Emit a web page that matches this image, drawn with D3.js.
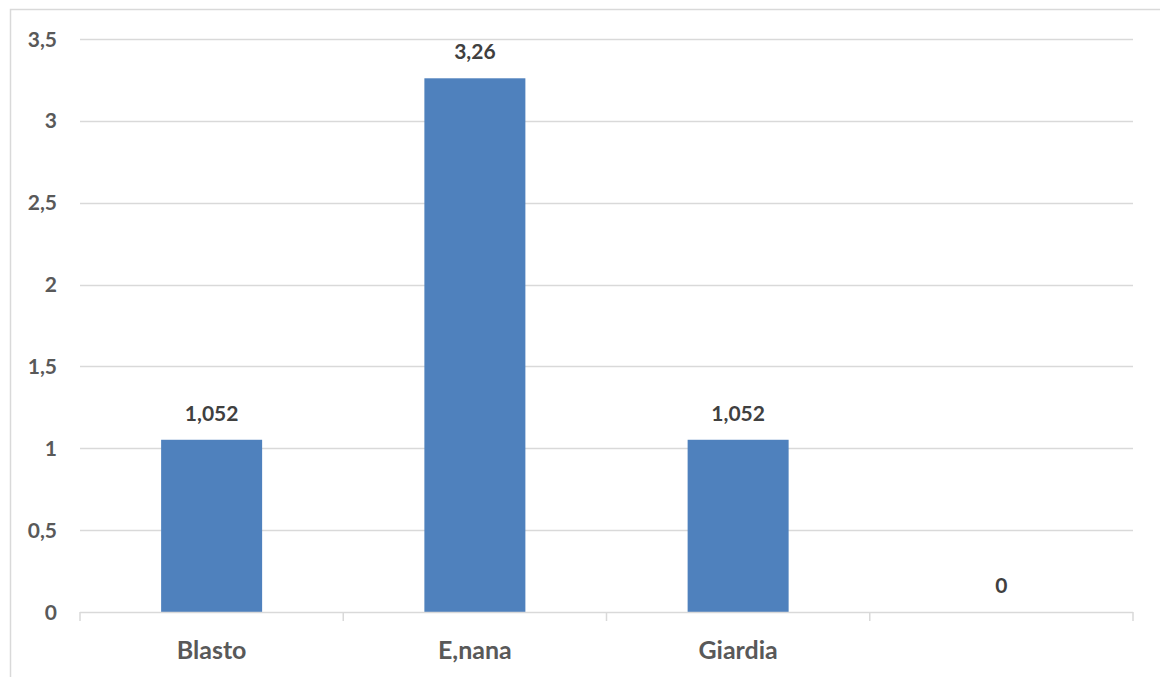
<!DOCTYPE html>
<html>
<head>
<meta charset="utf-8">
<script src="https://cdn.jsdelivr.net/npm/d3@7/dist/d3.min.js"></script>
<style>
  html, body { margin: 0; padding: 0; background: #fff; }
  svg { display: block; font-family: Lato, "Open Sans", sans-serif; }
</style>
</head>
<body>
<svg id="chart" width="1160" height="677"></svg>
<script>
const categories = ["Blasto", "E,nana", "Giardia", ""];
const values = [1.052, 3.26, 1.052, 0];
const valueLabels = ["1,052", "3,26", "1,052", "0"];
const yTicks = [0, 0.5, 1, 1.5, 2, 2.5, 3, 3.5];

const svg = d3.select("#chart");
const margin = { left: 80, right: 1133, top: 39, bottom: 612 };

// chart frame
svg.append("rect")
  .attr("x", 10.5).attr("y", 9.5)
  .attr("width", 1160).attr("height", 700)
  .attr("fill", "none").attr("stroke", "#d9d9d9").attr("stroke-width", 1.5);

const x = d3.scaleBand().domain(categories.map((d, i) => i))
  .range([margin.left, margin.right]).paddingInner(0).paddingOuter(0);
const y = d3.scaleLinear().domain([0, 3.5]).range([margin.bottom, margin.top]);

const fmt = v => String(v).replace(".", ",");

// gridlines
svg.append("g").selectAll("line").data(yTicks.filter(t => t > 0)).join("line")
  .attr("x1", margin.left).attr("x2", margin.right)
  .attr("y1", d => Math.round(y(d)) + 0.5).attr("y2", d => Math.round(y(d)) + 0.5)
  .attr("stroke", "#d9d9d9").attr("stroke-width", 1.5);

// y tick labels
svg.append("g").selectAll("text").data(yTicks).join("text")
  .attr("x", 57).attr("y", d => y(d))
  .attr("dy", "0.36em").attr("text-anchor", "end")
  .attr("font-size", 21).attr("font-weight", "bold").attr("fill", "#595959")
  .text(fmt);

// bars
const barW = 101;
svg.append("g").selectAll("rect").data(values).join("rect")
  .attr("x", (d, i) => x(i) + x.bandwidth() / 2 - barW / 2)
  .attr("width", barW)
  .attr("y", d => y(d))
  .attr("height", d => y(0) - y(d))
  .attr("fill", "#4f81bd");

// category axis line and ticks
const xAxis = svg.append("g");
xAxis.append("line")
  .attr("x1", margin.left).attr("x2", margin.right)
  .attr("y1", y(0) + 0.5).attr("y2", y(0) + 0.5)
  .attr("stroke", "#d9d9d9").attr("stroke-width", 1.5);
const bounds = categories.map((d, i) => x(i)).concat([margin.right]);
xAxis.selectAll("line.tick").data(bounds).join("line")
  .attr("class", "tick")
  .attr("x1", d => d).attr("x2", d => d)
  .attr("y1", y(0)).attr("y2", y(0) + 9)
  .attr("stroke", "#d9d9d9").attr("stroke-width", 1.5);

// category labels
svg.append("g").selectAll("text").data(categories).join("text")
  .attr("x", (d, i) => x(i) + x.bandwidth() / 2)
  .attr("y", 659).attr("text-anchor", "middle")
  .attr("font-size", 25).attr("font-weight", "bold").attr("fill", "#595959")
  .text(d => d);

// value labels
svg.append("g").selectAll("text").data(values).join("text")
  .attr("x", (d, i) => x(i) + x.bandwidth() / 2)
  .attr("y", d => y(d) - 19).attr("text-anchor", "middle")
  .attr("font-size", 21).attr("font-weight", "bold").attr("fill", "#404040")
  .text((d, i) => valueLabels[i]);
</script>
</body>
</html>
